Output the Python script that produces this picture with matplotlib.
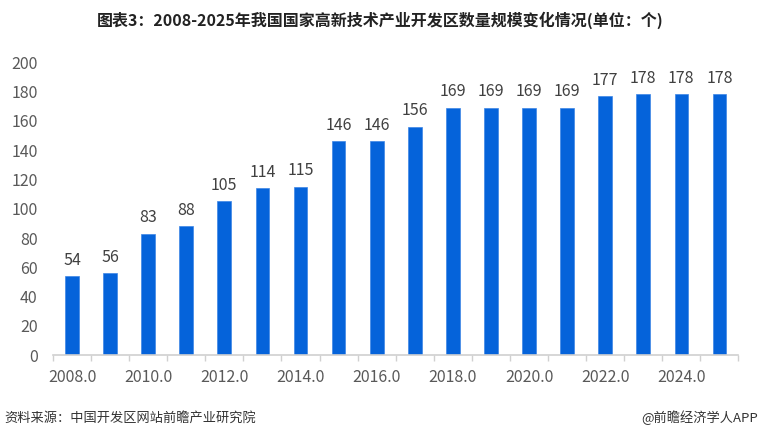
import matplotlib
matplotlib.use("Agg")
import matplotlib.pyplot as plt
import numpy as np

plt.rcParams['font.family'] = ['Noto Sans CJK SC', 'DejaVu Sans']

years = [2008, 2009, 2010, 2011, 2012, 2013, 2014, 2015, 2016,
         2017, 2018, 2019, 2020, 2021, 2022, 2023, 2024, 2025]
counts = [54, 56, 83, 88, 105, 114, 115, 146, 146,
          156, 169, 169, 169, 169, 177, 178, 178, 178]
tick_years = [2008, 2010, 2012, 2014, 2016, 2018, 2020, 2022, 2024]
title = "图表3：2008-2025年我国国家高新技术产业开发区数量规模变化情况(单位：个)"
source = "资料来源：中国开发区网站前瞻产业研究院"
brand = "@前瞻经济学人APP"

fig = plt.figure(figsize=(7.6, 4.38), dpi=100)
ax = fig.add_axes([0.0697, 0.189, 0.902, 0.669])

x = np.arange(len(years))
bars = ax.bar(x, counts, width=0.36, color="#0563DA", edgecolor="#3d86e6", linewidth=0.5)
for xi, v in zip(x, counts):
    ax.text(xi, v + 5, str(v), ha="center", va="bottom", fontsize=11.5, color="#404040")

ax.set_xlim(-0.5, len(years) - 0.5)
ax.set_ylim(0, 200)
ax.set_yticks(range(0, 201, 20))
ax.tick_params(axis="y", length=0, pad=11, labelsize=11.5, labelcolor="#595959")

ax.set_xticks([years.index(y) for y in tick_years])
ax.set_xticklabels([f"{y:.1f}" for y in tick_years])
ax.set_xticks(np.arange(-0.5, len(years), 1.0), minor=True)
ax.tick_params(axis="x", which="major", length=0, pad=10, labelsize=11.5, labelcolor="#595959")
ax.tick_params(axis="x", which="minor", length=4, color="#d0d0d0", width=1)

for s in ["top", "right", "left"]:
    ax.spines[s].set_visible(False)
ax.spines["bottom"].set_color("#d0d0d0")
ax.spines["bottom"].set_linewidth(1.2)

fig.text(0.5, 1 - 20 / 438, title, ha="center", va="center", fontsize=11.5,
         fontweight="bold", color="#222222")
fig.text(0.006, 1 - 418 / 438, source, ha="left", va="center", fontsize=9.5, color="#333333")
fig.text(0.997, 1 - 418 / 438, brand, ha="right", va="center", fontsize=9.5, color="#333333")

fig.savefig("out.png", dpi=100)
